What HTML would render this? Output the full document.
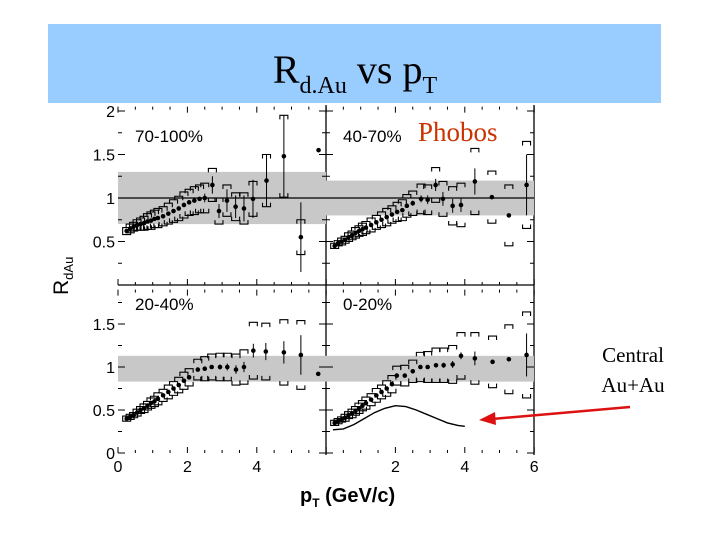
<!DOCTYPE html>
<html><head><meta charset="utf-8"><style>
body{margin:0;background:#fff;width:720px;height:540px;overflow:hidden}
svg{display:block}
</style></head><body>
<svg width="720" height="540" xmlns="http://www.w3.org/2000/svg">
<rect x="48" y="24" width="613" height="79" fill="#99ccff"/>
<text x="355" y="83" text-anchor="middle" font-family="Liberation Serif, serif" font-size="40">R<tspan font-size="24" dy="10">d.Au</tspan><tspan dy="-10"> vs p</tspan><tspan font-size="24" dy="10">T</tspan></text>
<g id="chart"></g>
<text x="418" y="141" font-family="Liberation Serif, serif" font-size="27" fill="#cc3300">Phobos</text>
<text x="633" y="362" text-anchor="middle" font-family="Liberation Serif, serif" font-size="21">Central</text>
<text x="633" y="392" text-anchor="middle" font-family="Liberation Serif, serif" font-size="21">Au+Au</text>
<line x1="630" y1="407" x2="492" y2="419" stroke="#dd1111" stroke-width="2.5"/>
<polygon points="479,420 495,412 496,425" fill="#dd1111"/>
<text transform="translate(68,295) rotate(-90)" font-family="Liberation Sans, sans-serif" font-size="21">R<tspan font-size="13" dy="5">dAu</tspan></text>
<text x="300" y="502" font-family="Liberation Sans, sans-serif" font-weight="bold" font-size="20">p<tspan font-size="12" dy="5">T</tspan><tspan dy="-5"> (GeV/c)</tspan></text>
</svg>
<script>
const pt70=[0.25,0.35,0.45,0.55,0.65,0.75,0.85,0.95,1.05,1.15,1.3,1.45,1.6,1.75,1.9,2.05,2.2,2.35,2.5,2.72,2.91,3.14,3.39,3.63,3.89,4.28,4.78,5.27,5.78];
const r70=[0.62,0.65,0.67,0.69,0.7,0.71,0.73,0.74,0.76,0.77,0.79,0.82,0.85,0.88,0.92,0.95,0.97,0.99,1.0,1.15,0.85,0.97,0.9,0.88,0.99,1.2,1.48,0.55,1.55];
const sys70=[0.04,0.05,0.05,0.06,0.07,0.08,0.09,0.1,0.1,0.11,0.11,0.12,0.13,0.14,0.15,0.15,0.16,0.16,0.17,0.19,0.15,0.18,0.16,0.18,0.2,0.3,0.47,0.2,0.0];
const stat70=[0,0,0,0,0,0,0,0,0,0,0,0,0,0,0,0,0,0,0.05,0.1,0.08,0.13,0.13,0.15,0.22,0.3,0.47,0.4,0];
const pt40=[0.25,0.35,0.45,0.55,0.65,0.75,0.85,0.95,1.05,1.15,1.3,1.45,1.6,1.75,1.9,2.05,2.2,2.33,2.5,2.74,2.93,3.16,3.37,3.65,3.89,4.29,4.78,5.27,5.78];
const r40=[0.45,0.48,0.5,0.52,0.55,0.57,0.6,0.62,0.64,0.66,0.69,0.72,0.75,0.78,0.81,0.84,0.86,0.91,0.94,0.99,0.98,1.15,0.99,0.91,0.92,1.19,1.01,0.8,1.15];
const sys40=[0.03,0.03,0.04,0.04,0.05,0.05,0.06,0.06,0.07,0.07,0.08,0.08,0.09,0.1,0.1,0.11,0.12,0.13,0.14,0.17,0.17,0.2,0.2,0.22,0.25,0.38,0.3,0.35,0.5];
const stat40=[0,0,0,0,0,0,0,0,0,0,0,0,0,0,0,0,0,0.02,0.03,0.04,0.05,0.07,0.08,0.08,0.08,0.15,0,0,0.35];
const pt20=[0.25,0.35,0.45,0.55,0.65,0.75,0.85,0.95,1.05,1.15,1.3,1.45,1.6,1.75,1.9,2.05,2.3,2.5,2.7,2.94,3.15,3.4,3.63,3.9,4.26,4.78,5.27,5.77];
const r20=[0.4,0.42,0.44,0.47,0.5,0.52,0.55,0.58,0.6,0.63,0.67,0.71,0.75,0.79,0.84,0.88,0.97,0.98,1.0,1.0,1.0,0.97,1.0,1.19,1.18,1.17,1.14,0.92];
const sys20=[0.03,0.03,0.03,0.04,0.04,0.05,0.05,0.06,0.06,0.07,0.07,0.08,0.08,0.09,0.1,0.1,0.12,0.14,0.15,0.16,0.16,0.18,0.2,0.33,0.33,0.38,0.4,0];
const stat20=[0,0,0,0,0,0,0,0,0,0,0,0,0,0,0,0,0,0,0,0.03,0.04,0.05,0.06,0.08,0.1,0.13,0.23,0];
const pt0=[0.25,0.35,0.45,0.55,0.65,0.75,0.85,0.95,1.05,1.15,1.3,1.45,1.6,1.75,1.9,2.04,2.27,2.5,2.72,2.93,3.17,3.39,3.65,3.89,4.29,4.8,5.27,5.78];
const r0=[0.35,0.37,0.39,0.41,0.44,0.46,0.49,0.52,0.55,0.58,0.62,0.67,0.71,0.75,0.8,0.9,0.9,0.95,1.0,1.0,1.02,1.02,1.03,1.13,1.1,1.06,1.09,1.14];
const sys0=[0.03,0.03,0.03,0.04,0.04,0.05,0.05,0.06,0.06,0.07,0.07,0.08,0.08,0.09,0.1,0.11,0.12,0.13,0.17,0.18,0.2,0.2,0.22,0.27,0.3,0.3,0.4,0.5];
const stat0=[0,0,0,0,0,0,0,0,0,0,0,0,0,0,0,0,0,0,0,0,0.02,0.03,0.04,0.04,0.08,0,0,0.25];
const curvePt=[0.2,0.5,0.8,1.1,1.4,1.7,2.0,2.3,2.6,2.9,3.2,3.5,3.8,4.0];
const curveR=[0.27,0.28,0.33,0.4,0.47,0.52,0.55,0.54,0.5,0.45,0.4,0.35,0.32,0.31];
const yTicksTop=["2","1.5","1","0.5"];
const yTickValsTop=[2,1.5,1,0.5];
const yTicksBot=["1.5","1","0.5","0"];
const yTickValsBot=[1.5,1,0.5,0];
const xTicksL=["0","2","4"];const xTickValsL=[0,2,4];
const xTicksR=["2","4","6"];const xTickValsR=[2,4,6];

const NS="http://www.w3.org/2000/svg";
const g=document.getElementById('chart');
function mk(t,a,p){const e=document.createElementNS(NS,t);for(const k in a)e.setAttribute(k,a[k]);(p||g).appendChild(e);return e;}
const XS=34.7;
function sx(ox,p){return ox+p*XS;}
function panel(name,ox,oy,ys,label,pt,r,sys,stat,band,line){
 const grp=mk('g',{});
 
 
 const sy=v=>oy-v*ys;
 const b=mk('rect',{x:ox,y:sy(band[1]),width:208,height:(band[1]-band[0])*ys,fill:'#c8c8c8'},grp);
 
 
 if(line){const l=mk('line',{x1:ox,x2:ox+208,y1:sy(1),y2:sy(1),stroke:'#000','stroke-width':1.2},grp);
 
 }
 const t=mk('text',{x:ox+17,y:oy-143,'font-family':'Liberation Sans, sans-serif','font-size':17},grp);
 t.textContent=label;
 
 
 for(let i=0;i<pt.length;i++){
  const x=sx(ox,pt[i]),y=sy(r[i]);
  if(sys[i]>0){
   const yu=sy(r[i]+sys[i]),yl=sy(r[i]-sys[i]);
   const c=mk('path',{d:`M${x-4},${yu+4}V${yu}H${x+4}V${yu+4}M${x-4},${yl-4}V${yl}H${x+4}V${yl-4}`,fill:'none',stroke:'#000','stroke-width':1.1},grp);
   
   
  }
  if(stat[i]>0){const s=mk('line',{x1:x,x2:x,y1:sy(r[i]+stat[i]),y2:sy(r[i]-stat[i]),stroke:'#000','stroke-width':1},grp);
   
   }
  const m=mk('circle',{cx:x,cy:y,r:2.3,fill:'#000'},grp);
  
  
 }
 for(let v=0;v<=6.01;v+=0.5){const big=Math.abs(v%2)<0.01;
  mk('line',{x1:sx(ox,v),x2:sx(ox,v),y1:oy,y2:oy-(big?6:3),stroke:'#000'},grp);
  mk('line',{x1:sx(ox,v),x2:sx(ox,v),y1:sy(ys==87?2.05:1.9),y2:sy(ys==87?2.05:1.9)+(big?6:3),stroke:'#000'},grp);}
 for(let v=0;v<=2.01;v+=0.25){if(oy-v*ys<oy-(ys==87?2.1:1.95)*ys)continue;const big=Math.abs(v*2-Math.round(v*2))<0.01;
  mk('line',{x1:ox,x2:ox+(big?7:4),y1:sy(v),y2:sy(v),stroke:'#000'},grp);
  mk('line',{x1:ox+208,x2:ox+208-(big?7:4),y1:sy(v),y2:sy(v),stroke:'#000'},grp);}
 return sy;
}
[[326,105,326,455],[534,105,534,455],[118,285,534,285]].forEach(a=>{const l=mk('line',{x1:a[0],y1:a[1],x2:a[2],y2:a[3],stroke:'#000','stroke-width':1.3});

});
panel('panel-70-100',118,285,87,'70-100%',pt70,r70,sys70,stat70,[0.7,1.3],true);
panel('panel-40-70',326,285,87,'40-70%',pt40,r40,sys40,stat40,[0.8,1.2],true);
panel('panel-20-40',118,453,86,'20-40%',pt20,r20,sys20,stat20,[0.83,1.13],false);
const sy0=panel('panel-0-20',326,453,86,'0-20%',pt0,r0,sys0,stat0,[0.83,1.13],false);
const cp=mk('path',{d:curvePt.map((p,i)=>(i?'L':'M')+sx(326,p)+','+sy0(curveR[i])).join(''),fill:'none',stroke:'#000','stroke-width':1.4});


function ylab(txt,vals,oy,ys){txt.forEach((s,i)=>{const t=mk('text',{x:115,y:oy-vals[i]*ys+6,'text-anchor':'end','font-family':'Liberation Sans, sans-serif','font-size':16});t.textContent=s;

});}
ylab(yTicksTop,yTickValsTop,285,87);
ylab(yTicksBot,yTickValsBot,453,86);
function xlab(txt,vals,ox){txt.forEach((s,i)=>{const t=mk('text',{x:sx(ox,vals[i]),y:472,'text-anchor':'middle','font-family':'Liberation Sans, sans-serif','font-size':16});t.textContent=s;

});}
xlab(xTicksL,xTickValsL,118);
xlab(xTicksR,xTickValsR,326);
</script>
</body></html>
